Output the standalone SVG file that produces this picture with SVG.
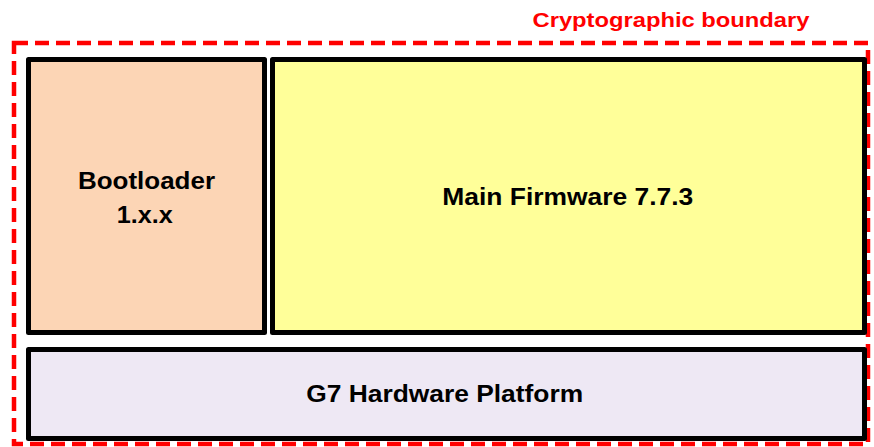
<svg xmlns="http://www.w3.org/2000/svg" width="874" height="447" viewBox="0 0 874 447">
<style>
.box{stroke:#000;stroke-width:5;stroke-linejoin:round}
.lbl{font-family:"Liberation Sans",Arial,sans-serif;font-weight:bold;font-size:23.5px;fill:#000;text-anchor:middle}
</style>
<rect width="874" height="447" fill="#fff"/>
<g id="boundary">
<rect x="14" y="43" width="854" height="401" fill="none" stroke="#ff0000" stroke-width="4.5" stroke-dasharray="14,7"/>
<text x="809.5" y="26.5" font-family="Liberation Sans,Arial,sans-serif" font-weight="bold" font-size="21" fill="#ff0000" text-anchor="end" textLength="277" lengthAdjust="spacingAndGlyphs">Cryptographic boundary</text>
</g>
<g id="bootloader">
<rect class="box" x="28.5" y="59.5" width="236" height="273" fill="#fcd5b5"/>
<text class="lbl" x="146.5" y="189" textLength="137" lengthAdjust="spacingAndGlyphs">Bootloader</text>
<text class="lbl" x="144.7" y="222.5" textLength="56" lengthAdjust="spacingAndGlyphs">1.x.x</text>
</g>
<g id="mainfw">
<rect class="box" x="272.5" y="59.5" width="592" height="273" fill="#ffff99"/>
<text class="lbl" x="567.8" y="205" textLength="251" lengthAdjust="spacingAndGlyphs">Main Firmware 7.7.3</text>
</g>
<g id="hardware">
<rect class="box" x="28.5" y="349.5" width="836" height="89" fill="#eee8f4"/>
<text class="lbl" x="444.7" y="402" textLength="277" lengthAdjust="spacingAndGlyphs">G7 Hardware Platform</text>
</g>
<g id="connectors"></g>
</svg>
